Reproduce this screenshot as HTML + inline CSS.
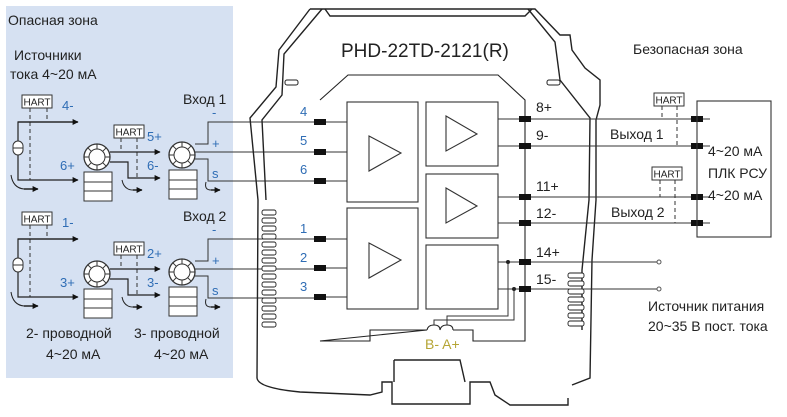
<!DOCTYPE html>
<html><head><meta charset="utf-8"><style>
html,body{margin:0;padding:0;background:#fff;}
svg{display:block;font-family:"Liberation Sans","DejaVu Sans",sans-serif;}
.t{font-size:14px;fill:#222;}
.b{font-size:13px;fill:#2f6db5;}
</style></head><body>
<svg width="787" height="417" viewBox="0 0 787 417" xmlns="http://www.w3.org/2000/svg">
<defs>
<marker id="ar" viewBox="0 0 10 10" refX="9" refY="5" markerWidth="9" markerHeight="6" orient="auto" markerUnits="userSpaceOnUse"><path d="M0,0 L10,5 L0,10 z" fill="#111"/></marker>
<g id="hart"><rect x="0" y="0" width="30" height="13" fill="#fff" stroke="#333"/><text x="15" y="10.5" font-size="10" text-anchor="middle" fill="#222">HART</text></g>
<g id="tx">
<rect x="-13" y="15" width="28" height="29" fill="#fff" stroke="#333"/><line x1="-13" y1="25" x2="15" y2="25" stroke="#333"/><line x1="-13" y1="34" x2="15" y2="34" stroke="#333"/>
<circle cx="0" cy="0" r="13" fill="#fff" stroke="#333" stroke-width="1.3"/><circle cx="0" cy="0" r="8" fill="#fff" stroke="#333"/>
<g stroke="#333"><line x1="0" y1="-8" x2="0" y2="-13"/><line x1="0" y1="8" x2="0" y2="13"/><line x1="-8" y1="0" x2="-13" y2="0"/><line x1="8" y1="0" x2="13" y2="0"/><line x1="5.7" y1="5.7" x2="9.2" y2="9.2"/><line x1="-5.7" y1="5.7" x2="-9.2" y2="9.2"/><line x1="5.7" y1="-5.7" x2="9.2" y2="-9.2"/><line x1="-5.7" y1="-5.7" x2="-9.2" y2="-9.2"/></g>
</g>
<g id="grp">
<use href="#hart" x="22" y="95"/>
<line x1="30" y1="108" x2="30" y2="180" stroke="#333" stroke-dasharray="4,3"/>
<line x1="47" y1="108" x2="47" y2="122" stroke="#333" stroke-dasharray="4,3"/>
<polyline points="78,122 18,122 18,180 78,180" fill="none" stroke="#222" stroke-width="1.2" marker-end="url(#ar)"/>
<line x1="18" y1="122" x2="78" y2="122" stroke="#222" stroke-width="1.2" marker-end="url(#ar)"/>
<rect x="13" y="141" width="10" height="14" rx="5" fill="#fff" stroke="#333"/><line x1="13" y1="148" x2="23" y2="148" stroke="#333"/>
<path d="M11,175 Q13,188 24,189" fill="none" stroke="#222"/><line x1="24" y1="189" x2="38" y2="189" stroke="#222" stroke-width="1.5" marker-end="url(#ar)"/>
<use href="#tx" x="97" y="157"/>
<use href="#hart" x="114" y="125"/>
<line x1="121" y1="138" x2="121" y2="152" stroke="#333" stroke-dasharray="4,3"/>
<line x1="137" y1="138" x2="137" y2="178" stroke="#333" stroke-dasharray="4,3"/>
<line x1="110" y1="152" x2="160" y2="152" stroke="#222" stroke-width="1.2" marker-end="url(#ar)"/>
<polyline points="110,162 128,162 128,178 160,178" fill="none" stroke="#222" stroke-width="1.2" marker-end="url(#ar)"/>
<path d="M122,180 Q124,190 133,190" fill="none" stroke="#222"/><line x1="133" y1="190" x2="142" y2="190" stroke="#222" stroke-width="1.5" marker-end="url(#ar)"/>
<use href="#tx" x="182" y="155"/>
<polyline points="320,122 208,122 208,144 195,144" fill="none" stroke="#333"/>
<polyline points="320,152 195,152" fill="none" stroke="#333"/>
<polyline points="320,181 208,181 208,159 195,159" fill="none" stroke="#333"/>
<path d="M206,182 Q204,190 211,190" fill="none" stroke="#222"/><line x1="211" y1="190" x2="220" y2="190" stroke="#222" stroke-width="1.5" marker-end="url(#ar)"/>
<text x="212" y="117" class="b" font-size="11">-</text>
<text x="212" y="148" class="b" font-size="11">+</text>
<text x="212" y="178" class="b" font-size="11">s</text>
</g>
</defs>
<rect x="6" y="6" width="227" height="372" fill="#d6e1f2"/>
<text x="8" y="25" class="t" font-size="15">Опасная зона</text>
<text x="14" y="60" class="t">Источники</text>
<text x="10" y="79" class="t">тока 4~20 мА</text>
<text x="183" y="104" class="t">Вход 1</text>
<text x="183" y="221" class="t">Вход 2</text>
<use href="#grp"/>
<use href="#grp" y="117"/>
<text x="62" y="110" class="b">4-</text><text x="60" y="170" class="b">6+</text>
<text x="147" y="141" class="b">5+</text><text x="147" y="170" class="b">6-</text>
<text x="62" y="227" class="b">1-</text><text x="60" y="287" class="b">3+</text>
<text x="147" y="258" class="b">2+</text><text x="147" y="287" class="b">3-</text>
<text x="26" y="338" class="t">2- проводной</text><text x="46" y="359" class="t">4~20 мА</text>
<text x="134" y="338" class="t">3- проводной</text><text x="154" y="359" class="t">4~20 мА</text>
<!-- housing -->
<g fill="none" stroke="#222" stroke-width="1.4">
<path d="M310,9 L535,9 L560,35 L570,35 L572,50 L585,68 L600,80 L600,105 L596,120 L596,200 L592,260 L590,378 L572,385"/>
<path d="M310,9 L279,50 L276,87 L250,118 L258,200 L257,378 Q258,388 300,392 L370,395 L382,392 L382,382 L392,382 L392,404 L470,404 L470,382 L490,382 L495,395 L510,405 L568,405 L568,398"/>
<path d="M322,9 L284,54 L282,95 L262,120 L266,200"/>
<path d="M528,9 L555,42 L560,80 L590,118 L589,200 L582,270 L582,330"/>
<path d="M325,9 L330,16 L525,16 L532,9"/>
<path d="M394,360 L394,382 M394,360 L460,360 L465,382"/>
<path d="M320,100 L348,75 L498,75 L525,100 L525,341 L473,341 L473,330 L453,330 M427,330 L370,330 L370,341 L320,341 Z" stroke-width="1.1"/>
<path d="M427,330 Q428,325 434,325 Q440,325 440,330 Q441,325 447,325 Q453,325 453,330" stroke-width="1"/>
</g>
<rect x="285" y="80" width="13" height="5" rx="2" fill="#fff" stroke="#222"/>
<rect x="547" y="80" width="13" height="5" rx="2" fill="#fff" stroke="#222"/>
<g fill="#fff" stroke="#222" stroke-width="0.9">
<rect x="262" y="210" width="14" height="5" rx="2"/><rect x="262" y="218" width="14" height="5" rx="2"/><rect x="262" y="226" width="14" height="5" rx="2"/><rect x="262" y="234" width="14" height="5" rx="2"/><rect x="262" y="242" width="14" height="5" rx="2"/><rect x="262" y="250" width="14" height="5" rx="2"/><rect x="262" y="258" width="14" height="5" rx="2"/><rect x="262" y="266" width="14" height="5" rx="2"/><rect x="262" y="274" width="14" height="5" rx="2"/><rect x="262" y="282" width="14" height="5" rx="2"/><rect x="262" y="290" width="14" height="5" rx="2"/><rect x="262" y="298" width="14" height="5" rx="2"/><rect x="262" y="306" width="14" height="5" rx="2"/><rect x="262" y="314" width="14" height="5" rx="2"/><rect x="262" y="322" width="14" height="5" rx="2"/>
<rect x="568" y="273" width="16" height="5" rx="2"/><rect x="568" y="281" width="16" height="5" rx="2"/><rect x="568" y="289" width="16" height="5" rx="2"/><rect x="568" y="297" width="16" height="5" rx="2"/><rect x="568" y="305" width="16" height="5" rx="2"/><rect x="568" y="313" width="16" height="5" rx="2"/><rect x="568" y="321" width="16" height="5" rx="2"/>
</g>
<text x="341" y="57" font-size="19" fill="#222">PHD-22TD-2121(R)</text>
<text x="633" y="54" class="t">Безопасная зона</text>
<g fill="#fff" stroke="#333" stroke-width="1.1">
<rect x="347" y="102" width="71" height="100"/><rect x="347" y="208" width="71" height="101"/>
<rect x="426" y="102" width="72" height="64"/><rect x="426" y="174" width="72" height="64"/><rect x="426" y="245" width="72" height="64"/>
<polygon points="369,136 401,153 369,171"/><polygon points="369,243 401,260 369,278"/>
<polygon points="446,116 477,134 446,151"/><polygon points="446,188 477,206 446,223"/>
</g>
<g stroke="#333" stroke-width="1">
<line x1="320" y1="122" x2="347" y2="122"/><line x1="320" y1="152" x2="347" y2="152"/><line x1="320" y1="181" x2="347" y2="181"/>
<line x1="320" y1="239" x2="347" y2="239"/><line x1="320" y1="268" x2="347" y2="268"/><line x1="320" y1="297" x2="347" y2="297"/>
<line x1="498" y1="119" x2="710" y2="119"/><line x1="498" y1="146" x2="710" y2="146"/>
<line x1="498" y1="197" x2="710" y2="197"/><line x1="498" y1="223" x2="710" y2="223"/>
<line x1="498" y1="262" x2="657" y2="262"/><line x1="498" y1="289" x2="657" y2="289"/>
<polyline points="508,262 508,316 447,316 447,325" fill="none"/><polyline points="514,289 514,320 434,320 434,325" fill="none"/>
</g>
<circle cx="508" cy="262" r="2" fill="#222"/><circle cx="514" cy="289" r="2" fill="#222"/>
<circle cx="659" cy="262" r="2" fill="#fff" stroke="#555"/><circle cx="659" cy="289" r="2" fill="#fff" stroke="#555"/>
<g fill="#111">
<rect x="314" y="119" width="12" height="6"/><rect x="314" y="149" width="12" height="6"/><rect x="314" y="178" width="12" height="6"/>
<rect x="314" y="236" width="12" height="6"/><rect x="314" y="265" width="12" height="6"/><rect x="314" y="294" width="12" height="6"/>
<rect x="519" y="116" width="12" height="6"/><rect x="519" y="143" width="12" height="6"/><rect x="519" y="194" width="12" height="6"/>
<rect x="519" y="220" width="12" height="6"/><rect x="519" y="259" width="12" height="6"/><rect x="519" y="286" width="12" height="6"/>
<rect x="691" y="116" width="12" height="6"/><rect x="691" y="143" width="12" height="6"/><rect x="691" y="194" width="12" height="6"/><rect x="691" y="220" width="12" height="6"/>
</g>
<text x="300" y="116" class="b">4</text><text x="300" y="145" class="b">5</text><text x="300" y="174" class="b">6</text>
<text x="300" y="233" class="b">1</text><text x="300" y="262" class="b">2</text><text x="300" y="291" class="b">3</text>
<text x="536" y="112" class="t">8+</text><text x="536" y="140" class="t">9-</text>
<text x="536" y="191" class="t">11+</text><text x="536" y="218" class="t">12-</text>
<text x="536" y="257" class="t">14+</text><text x="536" y="284" class="t">15-</text>
<text x="425" y="349" font-size="14" fill="#b5a535">B-  A+</text>
<rect x="697" y="101" width="74" height="136" fill="none" stroke="#333" stroke-width="1.1"/>
<text x="708" y="156" class="t">4~20 мА</text><text x="708" y="178" class="t">ПЛК РСУ</text><text x="708" y="200" class="t">4~20 мА</text>
<use href="#hart" x="654" y="93"/><use href="#hart" x="652" y="167"/>
<g stroke="#333" stroke-dasharray="4,3"><line x1="662" y1="106" x2="662" y2="119"/><line x1="677" y1="106" x2="677" y2="146"/><line x1="660" y1="180" x2="660" y2="197"/><line x1="675" y1="180" x2="675" y2="223"/></g>
<text x="610" y="139" class="t">Выход 1</text><text x="611" y="217" class="t">Выход 2</text>
<text x="648" y="311" class="t">Источник питания</text><text x="648" y="331" class="t">20~35 В пост. тока</text>
</svg>
</body></html>
